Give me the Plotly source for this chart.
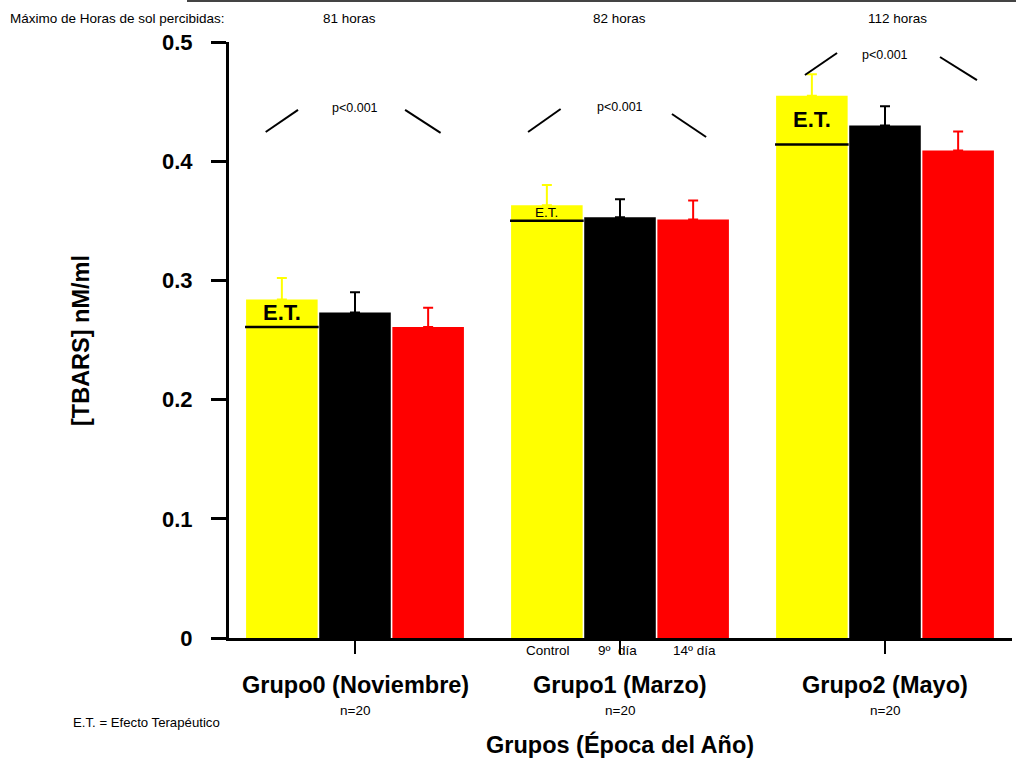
import plotly.graph_objects as go

# --- data -------------------------------------------------------------
groups = ["Grupo0 (Noviembre)", "Grupo1 (Marzo)", "Grupo2 (Mayo)"]
series_names = ["Control", "9º  día", "14º día"]
series_colors = ["#FFFF00", "#000000", "#FF0000"]

control = [0.284, 0.363, 0.455]
control_err = [0.018, 0.017, 0.018]
dia9 = [0.273, 0.353, 0.430]
dia9_err = [0.017, 0.015, 0.016]
dia14 = [0.261, 0.351, 0.409]
dia14_err = [0.016, 0.016, 0.016]

# level of the "E.T." reference line drawn across the control bar
et_level = [0.261, 0.350, 0.414]
et_label_size = [22, 13.5, 22]
et_label_bold = [True, False, True]
et_label_y = [0.273, 0.357, 0.435]

hours = ["81 horas", "82 horas", "112 horas"]
n_labels = ["n=20", "n=20", "n=20"]
p_text = ["p<0.001", "p<0.001", "p<0.001"]
p_text_y = [0.4445, 0.4455, 0.489]

# bracket strokes around each p-value: (x0, y0, x1, y1) relative to group centre
p_left = [(-0.337, 0.4245, -0.215, 0.443),
          (-0.347, 0.4245, -0.224, 0.4438),
          (-0.302, 0.4723, -0.181, 0.4908)]
p_right = [(0.189, 0.443, 0.323, 0.4237),
           (0.196, 0.4396, 0.325, 0.4203),
           (0.2075, 0.4874, 0.347, 0.468)]

y_ticks = [0, 0.1, 0.2, 0.3, 0.4, 0.5]
y_tick_text = ["0", "0.1", "0.2", "0.3", "0.4", "0.5"]

# --- layout geometry ---------------------------------------------------
W, H = 1016, 764
ML, MR, MT, MB = 229, 4, 42, 126
PW, PH = W - ML - MR, H - MT - MB
FONT = "Liberation Sans, Arial, sans-serif"
SMALL = 13.5
BIG = 23.5

bar_w = 0.27
offsets = [-0.276, 0.0, 0.276]


def pxx(x):
    return (x - ML) / PW


def pxy(y):
    return (H - MB - y) / PH


def note(**kw):
    base = dict(showarrow=False, xanchor="center", yanchor="middle")
    base.update(kw)
    return base


fig = go.Figure()

values = [control, dia9, dia14]
errors = [control_err, dia9_err, dia14_err]
for name, vals, errs, col, off in zip(series_names, values, errors, series_colors, offsets):
    fig.add_trace(go.Bar(
        x=[i + off for i in range(len(groups))],
        y=vals,
        width=bar_w,
        name=name,
        marker=dict(color=col, line=dict(width=0)),
        error_y=dict(type="data", array=errs, arrayminus=[0] * len(errs),
                     symmetric=False, color=col, thickness=2, width=5),
        showlegend=False,
    ))

shapes = []
annotations = []

# E.T. reference lines and labels
for i, lvl in enumerate(et_level):
    x0 = i + offsets[0] - bar_w / 2 - 0.004
    x1 = i + offsets[0] + bar_w / 2 + 0.004
    shapes.append(dict(type="line", xref="x", yref="y", x0=x0, x1=x1, y0=lvl, y1=lvl,
                       line=dict(color="black", width=2.5)))
    txt = "<b>E.T.</b>" if et_label_bold[i] else "E.T."
    annotations.append(note(x=i + offsets[0], y=et_label_y[i], xref="x", yref="y", text=txt,
                            font=dict(family=FONT, size=et_label_size[i], color="black")))

# significance brackets over each group
for i in range(len(groups)):
    for (ax0, ay0, ax1, ay1) in (p_left[i], p_right[i]):
        shapes.append(dict(type="line", xref="x", yref="y", x0=i + ax0, y0=ay0, x1=i + ax1, y1=ay1,
                           line=dict(color="black", width=2)))
    annotations.append(note(x=i, y=p_text_y[i], xref="x", yref="y", text=p_text[i],
                            font=dict(family=FONT, size=12.5, color="black")))

# thin rule along the top of the page
shapes.append(dict(type="line", xref="paper", yref="paper", x0=pxx(187), x1=pxx(1016),
                   y0=pxy(1), y1=pxy(1), line=dict(color="#444444", width=2)))

# sunshine hours header
annotations.append(note(x=pxx(8), y=pxy(18), xref="paper", yref="paper", xanchor="left",
                        text="Máximo de Horas de sol percibidas:",
                        font=dict(family=FONT, size=SMALL, color="black")))
for xc, t in zip([349, 619, 897], hours):
    annotations.append(note(x=pxx(xc), y=pxy(18), xref="paper", yref="paper", text=t,
                            font=dict(family=FONT, size=SMALL, color="black")))

# series names under the middle group
for nm, dx in zip(series_names, [-0.27, -0.01, 0.28]):
    annotations.append(note(x=1 + dx, y=pxy(650), xref="x", yref="paper", text=nm,
                            font=dict(family=FONT, size=SMALL, color="black")))

# group labels and sample sizes
for i, (g, n) in enumerate(zip(groups, n_labels)):
    annotations.append(note(x=i, y=pxy(685), xref="x", yref="paper", text="<b>%s</b>" % g,
                            font=dict(family=FONT, size=BIG, color="black")))
    annotations.append(note(x=i, y=pxy(710), xref="x", yref="paper", text=n,
                            font=dict(family=FONT, size=SMALL, color="black")))

# axis titles
annotations.append(note(x=1, y=pxy(744), xref="x", yref="paper", text="<b>Grupos (Época del Año)</b>",
                        font=dict(family=FONT, size=BIG, color="black")))
annotations.append(note(x=pxx(81), y=pxy(341), xref="paper", yref="paper", text="<b>[TBARS] nM/ml</b>",
                        textangle=-90, font=dict(family=FONT, size=BIG, color="black")))

# footnote
annotations.append(note(x=pxx(71), y=pxy(722), xref="paper", yref="paper", xanchor="left",
                        text="E.T. = Efecto Terapéutico",
                        font=dict(family=FONT, size=13.2, color="black")))

fig.update_layout(
    width=W, height=H,
    margin=dict(l=ML, r=MR, t=MT, b=MB, autoexpand=False),
    paper_bgcolor="white", plot_bgcolor="white",
    barmode="overlay",
    shapes=shapes,
    annotations=annotations,
    xaxis=dict(
        range=[-126 / 265, 2 + 127 / 265],
        tickvals=[0, 1, 2], ticktext=["", "", ""],
        ticks="outside", ticklen=13, tickwidth=2, tickcolor="black",
        showline=True, linewidth=3, linecolor="black",
        showgrid=False, zeroline=False,
    ),
    yaxis=dict(
        range=[0, 0.5],
        tickvals=y_ticks, ticktext=y_tick_text,
        ticks="outside", ticklen=15, tickwidth=3, tickcolor="black",
        tickfont=dict(family=FONT, size=22, color="black", weight="bold"),
        ticklabelstandoff=14,
        showline=True, linewidth=3, linecolor="black",
        showgrid=False, zeroline=False,
    ),
)

fig.write_html("out.html")
